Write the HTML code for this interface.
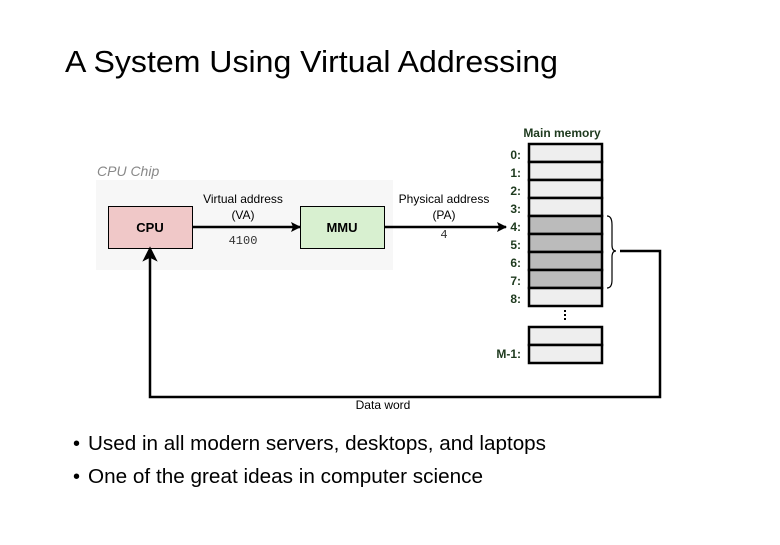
<!DOCTYPE html>
<html><head><meta charset="utf-8"><style>
body{margin:0;background:#fff;width:780px;height:540px;overflow:hidden;font-family:"Liberation Sans",sans-serif}
</style></head><body>
<svg width="780" height="540" viewBox="0 0 780 540" xmlns="http://www.w3.org/2000/svg" font-family="Liberation Sans, sans-serif">
<defs><marker id="ah" markerWidth="10" markerHeight="10" refX="9" refY="5" orient="auto" markerUnits="userSpaceOnUse"><path d="M0,0 L10,5 L0,10 L2,5 z" fill="#000"/></marker></defs>
<text x="65" y="72" font-size="31" fill="#000" textLength="493" lengthAdjust="spacingAndGlyphs">A System Using Virtual Addressing</text>
<text x="97" y="176" font-size="14" font-style="italic" fill="#888">CPU Chip</text>
<rect x="96" y="180" width="297" height="90" fill="#f7f7f7"/>
<rect x="108.5" y="206.5" width="84" height="42" fill="#f0c8c8" stroke="#000"/>
<text x="150" y="232" font-size="13" font-weight="bold" text-anchor="middle">CPU</text>
<rect x="300.5" y="206.5" width="84" height="42" fill="#d8f0d0" stroke="#000"/>
<text x="342" y="232" font-size="13" font-weight="bold" text-anchor="middle">MMU</text>
<line x1="193" y1="227" x2="300" y2="227" stroke="#000" stroke-width="2.5" marker-end="url(#ah)"/>
<line x1="385" y1="227" x2="506" y2="227" stroke="#000" stroke-width="2.5" marker-end="url(#ah)"/>
<g font-size="12" text-anchor="middle">
<text x="243" y="203">Virtual address</text><text x="243" y="219">(VA)</text>
<text x="243" y="244" font-family="Liberation Mono, monospace" font-size="12" fill="#333">4100</text>
<text x="444" y="203">Physical address</text><text x="444" y="219">(PA)</text>
<text x="444" y="238" font-family="Liberation Mono, monospace" font-size="12" fill="#333">4</text>
</g>
<text x="562" y="137" font-size="12" font-weight="bold" fill="#1e3a1e" text-anchor="middle">Main memory</text>
<g stroke="#000" stroke-width="2.5">
<rect x="529" y="144" width="73" height="18" fill="#eee"/>
<rect x="529" y="162" width="73" height="18" fill="#eee"/>
<rect x="529" y="180" width="73" height="18" fill="#eee"/>
<rect x="529" y="198" width="73" height="18" fill="#eee"/>
<rect x="529" y="216" width="73" height="18" fill="#bbb"/>
<rect x="529" y="234" width="73" height="18" fill="#bbb"/>
<rect x="529" y="252" width="73" height="18" fill="#bbb"/>
<rect x="529" y="270" width="73" height="18" fill="#bbb"/>
<rect x="529" y="288" width="73" height="18" fill="#eee"/>
<rect x="529" y="327" width="73" height="18" fill="#eee"/>
<rect x="529" y="345" width="73" height="18" fill="#eee"/>
</g>
<g font-size="12" font-weight="bold" fill="#1e3a1e" text-anchor="end">
<text x="521" y="159">0:</text><text x="521" y="177">1:</text><text x="521" y="195">2:</text>
<text x="521" y="213">3:</text><text x="521" y="231">4:</text><text x="521" y="249">5:</text>
<text x="521" y="267">6:</text><text x="521" y="285">7:</text><text x="521" y="303">8:</text>
<text x="521" y="358">M-1:</text>
</g>
<g fill="#000"><rect x="564" y="310" width="2" height="2"/><rect x="564" y="314" width="2" height="2"/><rect x="564" y="318" width="2" height="2"/></g>
<path d="M607,216 Q612,216 612,225 L612,245 Q612,251 616,251 Q612,251 612,257 L612,280 Q612,288 607,288" fill="none" stroke="#000" stroke-width="1.2"/>
<polyline points="620,251 660,251 660,397 150,397 150,256" fill="none" stroke="#000" stroke-width="2.5"/>
<path d="M150,248 L156,260 L150,257 L144,260 z" fill="#000" stroke="#000" stroke-width="1.5"/>
<text x="383" y="409" font-size="12" text-anchor="middle">Data word</text>
<g font-size="20" fill="#000">
<text x="73" y="450">•</text><text x="88" y="450" textLength="458" lengthAdjust="spacingAndGlyphs">Used in all modern servers, desktops, and laptops</text>
<text x="73" y="483">•</text><text x="88" y="483" textLength="395" lengthAdjust="spacingAndGlyphs">One of the great ideas in computer science</text>
</g>
</svg>
</body></html>
